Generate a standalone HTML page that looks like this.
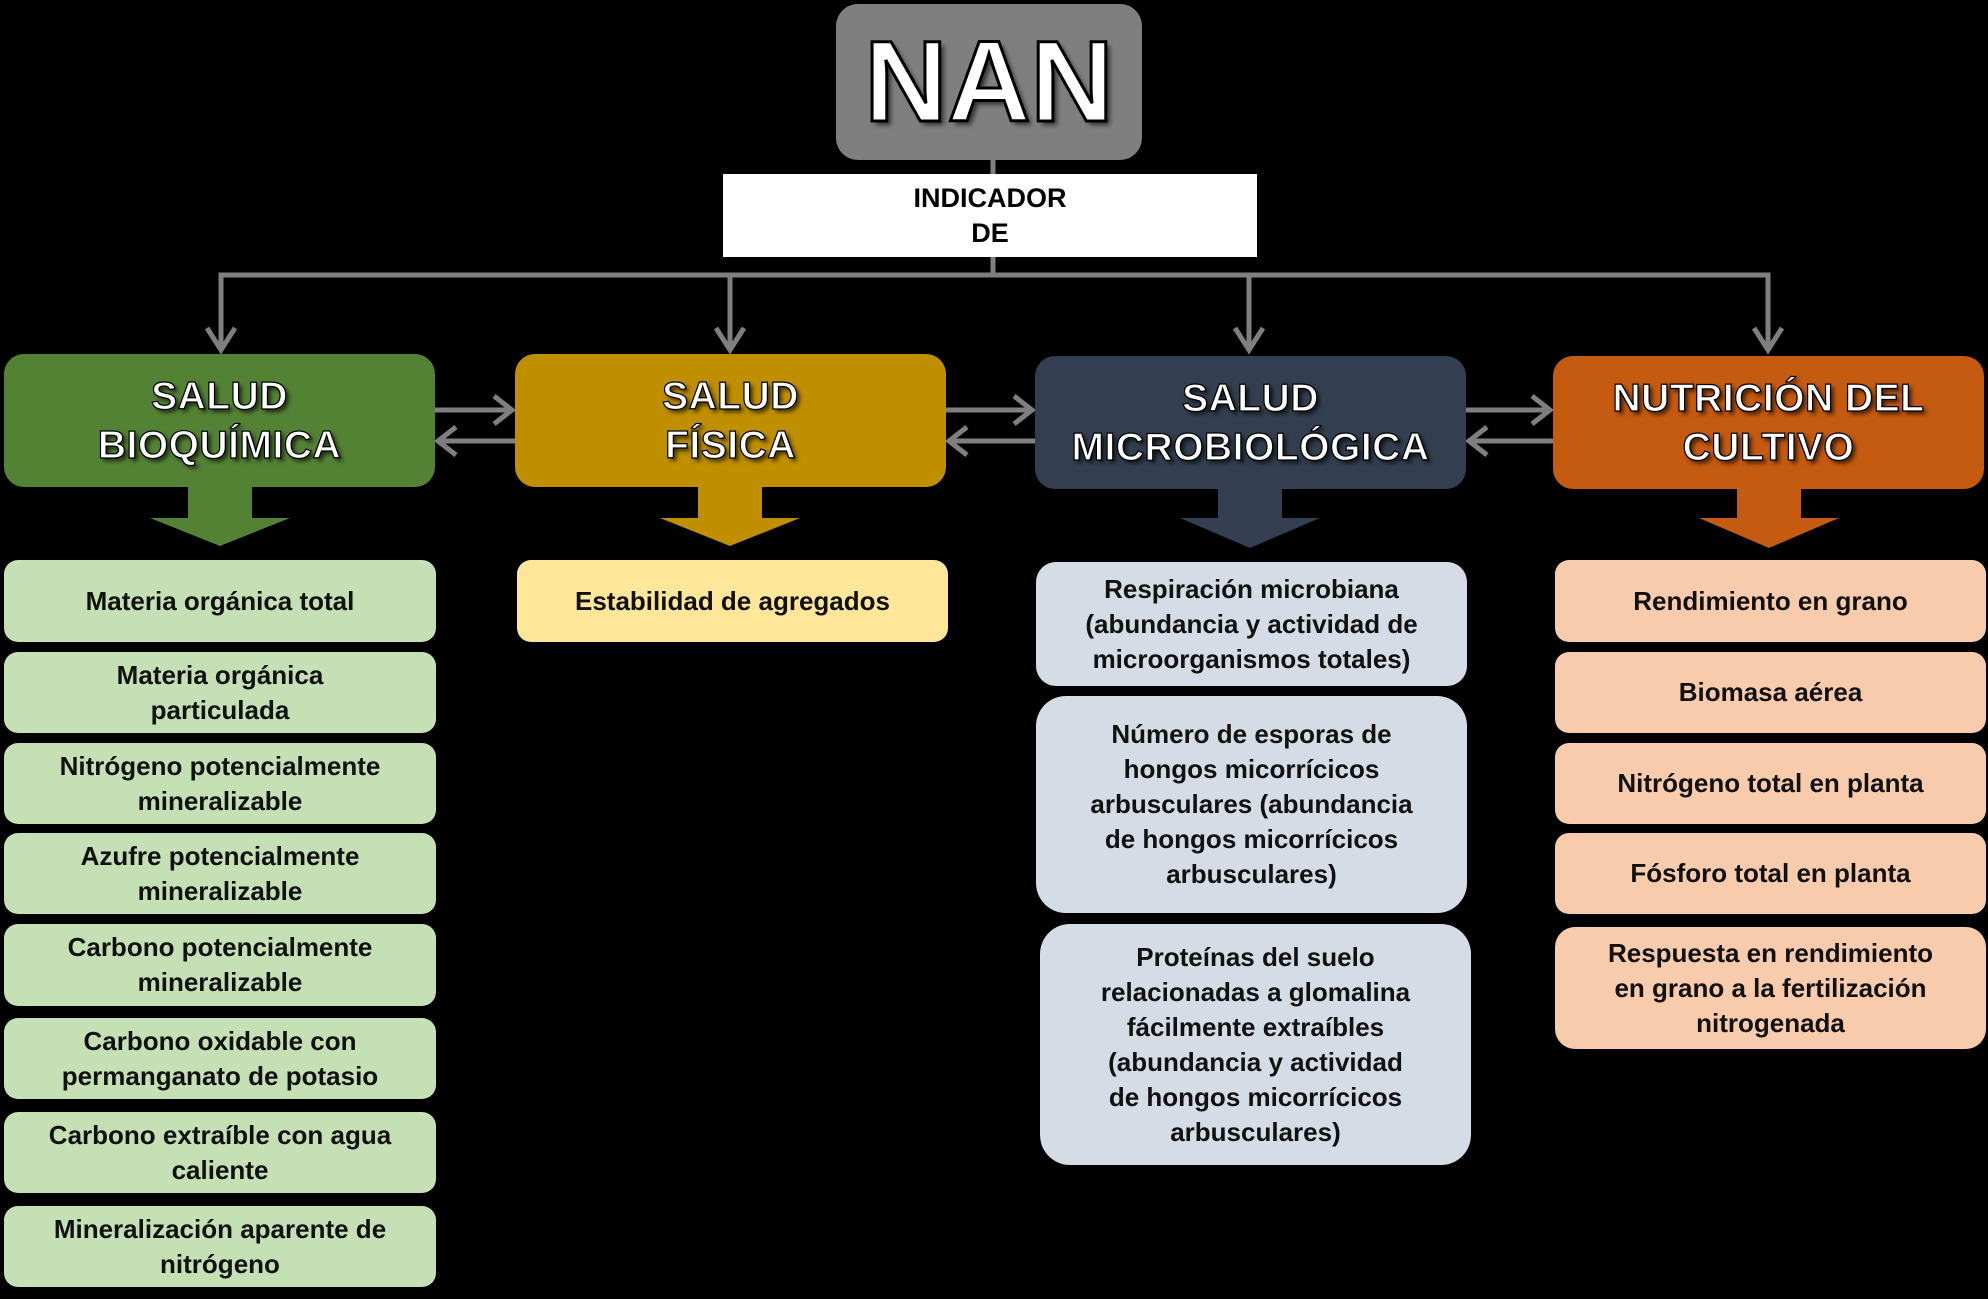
<!DOCTYPE html>
<html><head><meta charset="utf-8"><style>
body{margin:0;background:#000;width:1988px;height:1299px;position:relative;overflow:hidden;font-family:"Liberation Sans",sans-serif}
.b{position:absolute;display:flex;align-items:center;justify-content:center;text-align:center;box-sizing:border-box}
.h{border-radius:20px;color:#fff;font-weight:bold;font-size:39px;line-height:49px;-webkit-text-stroke:1.2px #000;text-shadow:3px 3px 4px rgba(0,0,0,.7);letter-spacing:0.5px}
.i{border-radius:14px;font-weight:bold;font-size:26px;line-height:35px;color:#111}
.g{background:#c5e0b4}.y{background:#ffe699}.m{background:#d6dce5;border-radius:30px}.o{background:#f8cbad}
</style></head><body>
<svg width="1988" height="1299" style="position:absolute;left:0;top:0">
<g stroke="#7f7f7f" stroke-width="5" fill="none">
<line x1="993" y1="160" x2="993" y2="174"/>
<line x1="993" y1="257" x2="993" y2="275"/>
<polyline points="221,350 221,275 1768,275 1768,350"/>
<line x1="730" y1="275" x2="730" y2="350"/>
<line x1="1249" y1="275" x2="1249" y2="350"/>
<path d="M207,328 L221,350 L235,328 M716,328 L730,350 L744,328 M1235,328 L1249,350 L1263,328 M1754,328 L1768,350 L1782,328"/>
<line x1="435" y1="410" x2="512" y2="410"/><path d="M494,396 L512,410 L494,424"/>
<line x1="515" y1="441" x2="438" y2="441"/><path d="M456,427 L438,441 L456,455"/>
<line x1="946" y1="410" x2="1032" y2="410"/><path d="M1014,396 L1032,410 L1014,424"/>
<line x1="1035" y1="441" x2="949" y2="441"/><path d="M967,427 L949,441 L967,455"/>
<line x1="1466" y1="410" x2="1550" y2="410"/><path d="M1532,396 L1550,410 L1532,424"/>
<line x1="1553" y1="441" x2="1469" y2="441"/><path d="M1487,427 L1469,441 L1487,455"/>
</g>
<polygon points="188,487 252,487 252,518 290,518 220,546 150,518 188,518" fill="#548235"/>
<polygon points="698,487 762,487 762,518 800,518 730,546 660,518 698,518" fill="#bf8f00"/>
<polygon points="1218,489 1282,489 1282,518 1320,518 1250,548 1180,518 1218,518" fill="#333f50"/>
<polygon points="1737,489 1801,489 1801,518 1839,518 1769,548 1699,518 1737,518" fill="#c55a11"/>
</svg>
<div class="b" style="left:836px;top:4px;width:306px;height:156px;background:#7f7f7f;border-radius:22px;color:#fff;font-weight:bold;font-size:115px;-webkit-text-stroke:3px #000;text-shadow:4px 4px 5px rgba(0,0,0,.6)">NAN</div>
<div class="b" style="left:723px;top:174px;width:534px;height:83px;background:#fff;font-weight:bold;font-size:27px;line-height:35px">INDICADOR<br>DE</div>
<div class="b h" style="left:4px;top:354px;width:431px;height:133px;background:#548235">SALUD<br>BIOQUÍMICA</div>
<div class="b h" style="left:515px;top:354px;width:431px;height:133px;background:#bf8f00">SALUD<br>FÍSICA</div>
<div class="b h" style="left:1035px;top:356px;width:431px;height:133px;background:#333f50">SALUD<br>MICROBIOLÓGICA</div>
<div class="b h" style="left:1553px;top:356px;width:431px;height:133px;background:#c55a11">NUTRICIÓN DEL<br>CULTIVO</div>
<div class="b i g" style="left:4px;top:560px;width:432px;height:82px">Materia orgánica total</div>
<div class="b i g" style="left:4px;top:652px;width:432px;height:81px">Materia orgánica<br>particulada</div>
<div class="b i g" style="left:4px;top:743px;width:432px;height:81px">Nitrógeno potencialmente<br>mineralizable</div>
<div class="b i g" style="left:4px;top:833px;width:432px;height:81px">Azufre potencialmente<br>mineralizable</div>
<div class="b i g" style="left:4px;top:924px;width:432px;height:82px">Carbono potencialmente<br>mineralizable</div>
<div class="b i g" style="left:4px;top:1018px;width:432px;height:81px">Carbono oxidable con<br>permanganato de potasio</div>
<div class="b i g" style="left:4px;top:1112px;width:432px;height:81px">Carbono extraíble con agua<br>caliente</div>
<div class="b i g" style="left:4px;top:1206px;width:432px;height:81px">Mineralización aparente de<br>nitrógeno</div>
<div class="b i y" style="left:517px;top:560px;width:431px;height:82px">Estabilidad de agregados</div>
<div class="b i m" style="left:1036px;top:562px;width:431px;height:124px;border-radius:20px">Respiración microbiana<br>(abundancia y actividad de<br>microorganismos totales)</div>
<div class="b i m" style="left:1036px;top:696px;width:431px;height:217px">Número de esporas de<br>hongos micorrícicos<br>arbusculares (abundancia<br>de hongos micorrícicos<br>arbusculares)</div>
<div class="b i m" style="left:1040px;top:924px;width:431px;height:241px">Proteínas del suelo<br>relacionadas a glomalina<br>fácilmente extraíbles<br>(abundancia y actividad<br>de hongos micorrícicos<br>arbusculares)</div>
<div class="b i o" style="left:1555px;top:560px;width:431px;height:82px">Rendimiento en grano</div>
<div class="b i o" style="left:1555px;top:652px;width:431px;height:81px">Biomasa aérea</div>
<div class="b i o" style="left:1555px;top:743px;width:431px;height:81px">Nitrógeno total en planta</div>
<div class="b i o" style="left:1555px;top:833px;width:431px;height:81px">Fósforo total en planta</div>
<div class="b i o" style="left:1555px;top:927px;width:431px;height:122px;border-radius:20px">Respuesta en rendimiento<br>en grano a la fertilización<br>nitrogenada</div>
</body></html>
